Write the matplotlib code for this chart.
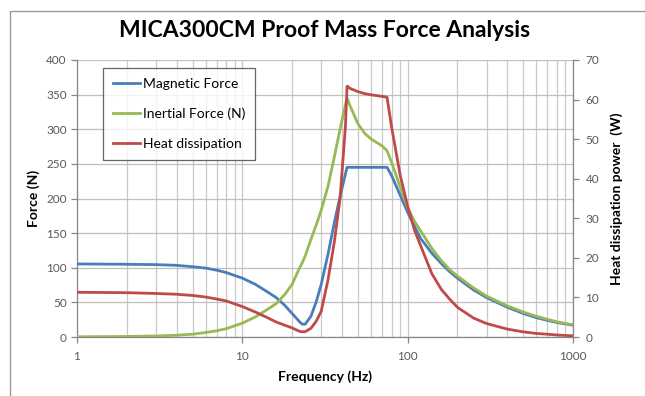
import matplotlib
matplotlib.use('Agg')
import matplotlib.pyplot as plt
import matplotlib.ticker as ticker
from matplotlib.patches import Rectangle
from matplotlib.lines import Line2D

# frequency points (Hz)
freq = [1, 2, 3, 4, 5, 6, 7, 8, 10, 12, 14, 16, 18, 20, 22, 23, 24, 26, 28, 30,
        33, 36, 39, 42, 43, 45, 50, 55, 60, 70, 75, 80, 90, 100, 110, 120, 140,
        160, 180, 200, 250, 300, 400, 500, 600, 700, 800, 1000]

# force (N)
magnetic = [105.5, 105, 104.5, 103.5, 101.5, 99.5, 96.5, 93, 85, 76, 66, 57, 46,
            34, 23, 18.5, 18.5, 30, 51, 76, 120, 165, 203, 235, 245, 245, 245,
            245, 245, 245, 245, 233, 205, 180, 160, 142, 121, 106, 94, 85, 68,
            57, 43, 34, 28, 24, 21, 17]
inertial = [0.3, 0.8, 1.5, 2.5, 4, 6.5, 9, 12, 20, 29, 39, 48, 61, 76, 98, 107,
            117, 141, 162, 183, 218, 260, 300, 335, 345, 333, 308, 294, 286, 276,
            269, 252, 217, 187, 167, 153, 128, 110, 97, 88, 71, 59, 45, 36, 30,
            25.5, 22, 17.5]

# heat dissipation (W)
heat = [11.3, 11.2, 11.0, 10.8, 10.5, 10.1, 9.6, 9.1, 7.7, 6.3, 5.0, 3.8, 3.0,
        2.3, 1.5, 1.3, 1.35, 2.2, 4.0, 6.5, 14.5, 24, 35, 53, 63.4, 62.8, 62.0,
        61.5, 61.2, 60.8, 60.6, 53, 41, 33, 27, 23, 16, 12, 9.5, 7.5, 4.8, 3.4,
        2.0, 1.3, 0.9, 0.7, 0.5, 0.3]

c_blue = '#4a7ebb'
c_green = '#98b954'
c_red = '#be4b48'
c_tick = '#595959'
c_axis = '#868686'

plt.rcParams['font.family'] = ['Lato', 'DejaVu Sans']

fig = plt.figure(figsize=(6.45, 3.96), dpi=100)
ax = fig.add_axes([77/645, 1-337/396, 496/645, 277/396])
ax2 = ax.twinx()

ax.plot(freq, magnetic, color=c_blue, lw=2.0, zorder=3, solid_joinstyle='round')
ax.plot(freq, inertial, color=c_green, lw=2.0, zorder=3, solid_joinstyle='round')
ax2.plot(freq, heat, color=c_red, lw=2.0, zorder=3, solid_joinstyle='round')

ax.set_xscale('log')
ax.set_xlim(1, 1000)
ax.set_ylim(0, 400)
ax2.set_ylim(0, 70)
ax.yaxis.set_major_locator(ticker.MultipleLocator(50))
ax2.yaxis.set_major_locator(ticker.MultipleLocator(10))
ax.xaxis.set_major_locator(ticker.FixedLocator([1, 10, 100, 1000]))
ax.xaxis.set_major_formatter(ticker.FixedFormatter(['1', '10', '100', '1000']))
ax.xaxis.set_minor_locator(ticker.LogLocator(base=10, subs=range(2, 10)))
ax.xaxis.set_minor_formatter(ticker.NullFormatter())

ax.grid(True, which='major', axis='y', color='#bfbfbf', lw=0.9)
ax.grid(True, which='both', axis='x', color='#c8c8c8', lw=0.9)
ax.set_axisbelow(True)

for a in (ax, ax2):
    a.spines['top'].set_visible(False)
    for s in ('left', 'right', 'bottom'):
        a.spines[s].set_color(c_axis)
        a.spines[s].set_linewidth(0.9)
ax.spines['right'].set_visible(False)
ax2.spines['left'].set_visible(False)
ax2.spines['bottom'].set_visible(False)

ax.tick_params(axis='both', which='major', labelsize=8.5, labelcolor=c_tick,
               color=c_axis, length=4, width=0.9)
ax.tick_params(axis='x', which='minor', length=0)
ax.tick_params(axis='x', pad=6)
ax2.tick_params(axis='y', labelsize=8.5, labelcolor=c_tick, color=c_axis,
                length=4, width=0.9, pad=5)

ax.set_xlabel('Frequency (Hz)', fontsize=10, fontweight='bold', labelpad=6)
ax.set_ylabel('Force (N)', fontsize=10, fontweight='bold', labelpad=4)
ax2.set_ylabel('Heat dissipation power  (W)', fontsize=10, fontweight='bold', labelpad=8)

fig.text((77+573)/2/645, 1-37/396, 'MICA300CM Proof Mass Force Analysis',
         fontsize=16.5, fontweight='bold', ha='center', va='baseline')

handles = [Line2D([], [], color=c_blue, lw=2.0),
           Line2D([], [], color=c_green, lw=2.0),
           Line2D([], [], color=c_red, lw=2.0)]
leg = ax2.legend(handles, ['Magnetic Force', 'Inertial Force (N)', 'Heat dissipation'],
                 loc='upper left', bbox_to_anchor=((103-77)/496, 1-(68-60)/277),
                 borderaxespad=0, fontsize=10, frameon=True, fancybox=False,
                 edgecolor='#404040', handlelength=1.95, handletextpad=0.2,
                 labelspacing=1.29, borderpad=0.7)
leg.get_frame().set_linewidth(0.9)

fig.patches.append(Rectangle((10/645, -0.1), 1.2, 1.1 - 11/396, transform=fig.transFigure,
                             fill=False, edgecolor='#9a9a9a', lw=1))

fig.savefig('out.png', dpi=100)
